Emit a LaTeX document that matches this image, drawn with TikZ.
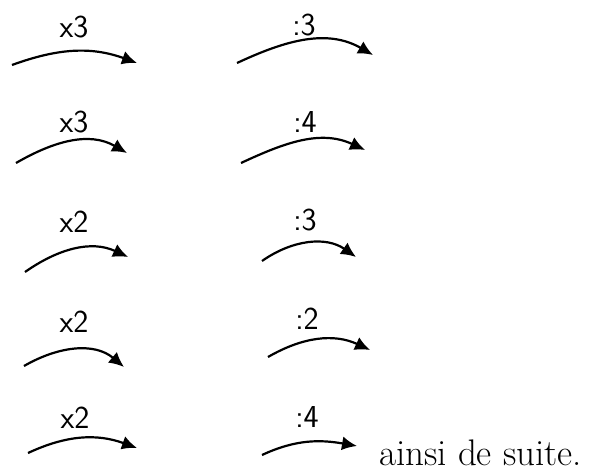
\documentclass[tikz,border=0pt]{standalone}
\usepackage{fontspec}
\usepackage{tikz}
\usetikzlibrary{arrows.meta}

\begin{document}
\begin{tikzpicture}[x=1pt,y=-1pt,
        op/.style={font=\sffamily\fontsize{32}{34}\selectfont,inner sep=0pt},
        hop/.style={-{Latex[length=15pt,width=14pt]},line width=2.2pt,looseness=1}]
      \useasboundingbox (0,0) rectangle (591,473);
      % left column: multiply
      \node[op] (m1) at (74,27) {x3};
      \node[op] (m2) at (74,122) {x3};
      \node[op] (m3) at (74,222) {x2};
      \node[op] (m4) at (74,322) {x2};
      \node[op] (m5) at (75,418) {x2};
      % right column: divide
      \node[op] (d1) at (304,25) {:3};
      \node[op] (d2) at (305,122) {:4};
      \node[op] (d3) at (305,220) {:3};
      \node[op] (d4) at (307,319) {:2};
      \node[op] (d5) at (307,417) {:4};
      \node[anchor=base west,inner sep=0pt,font=\fontsize{37}{39}\selectfont]
        (etc) at (379,465) {ainsi de suite.};
      % arrow ends
      \coordinate (ms1) at (12,65);  \coordinate (me1) at (137,63);
      \coordinate (ms2) at (16,163); \coordinate (me2) at (127,153);
      \coordinate (ms3) at (25,272); \coordinate (me3) at (128,257);
      \coordinate (ms4) at (24,366); \coordinate (me4) at (124,367);
      \coordinate (ms5) at (28,453); \coordinate (me5) at (137,448);
      \coordinate (ds1) at (237,63); \coordinate (de1) at (373,55);
      \coordinate (ds2) at (241,163);\coordinate (de2) at (365,150);
      \coordinate (ds3) at (262,261);\coordinate (de3) at (356,257);
      \coordinate (ds4) at (268,357);\coordinate (de4) at (370,350);
      \coordinate (ds5) at (262,455);\coordinate (de5) at (357,446);
      \draw[hop] (ms1) to[out=20,in=160] (me1);
      \draw[hop] (ms2) to[out=30,in=150] (me2);
      \draw[hop] (ms3) to[out=35,in=155] (me3);
      \draw[hop] (ms4) to[out=30,in=140] (me4);
      \draw[hop] (ms5) to[out=25,in=160] (me5);
      \draw[hop] (ds1) to[out=25,in=150] (de1);
      \draw[hop] (ds2) to[out=25,in=155] (de2);
      \draw[hop] (ds3) to[out=35,in=145] (de3);
      \draw[hop] (ds4) to[out=30,in=155] (de4);
      \draw[hop] (ds5) to[out=25,in=170] (de5);
    \end{tikzpicture}
\end{document}
